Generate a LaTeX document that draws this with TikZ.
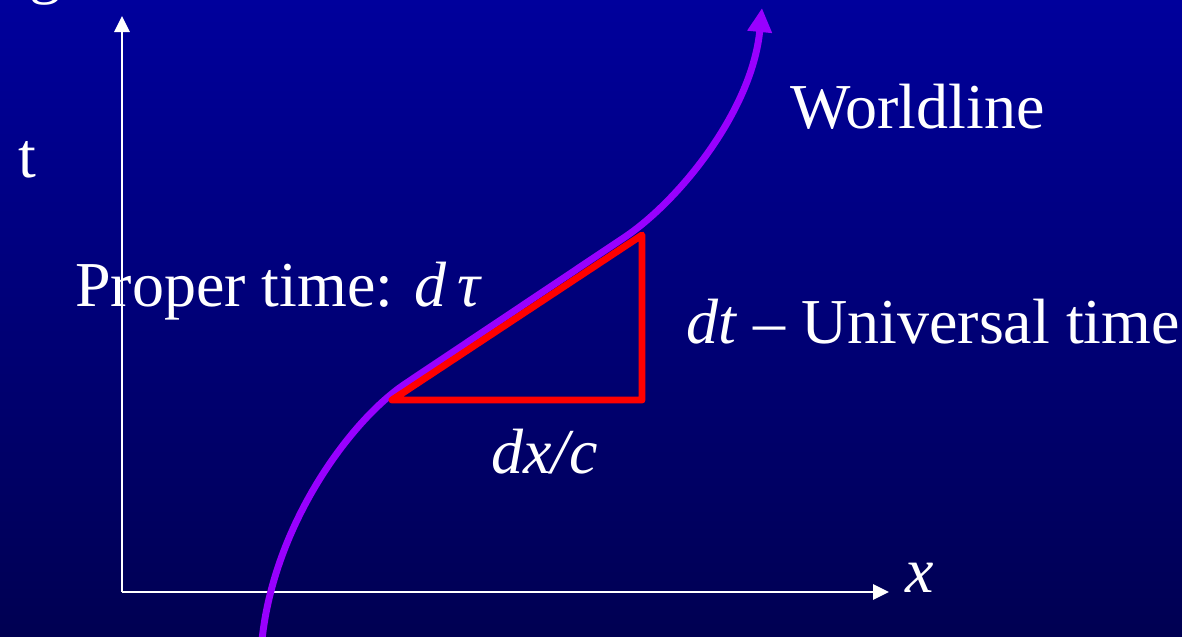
\documentclass[tikz,border=0pt]{standalone}
\usepackage{fontspec}
\setmainfont{Liberation Serif}
\usetikzlibrary{arrows.meta}
\definecolor{bgtop}{RGB}{0,0,156}
\definecolor{bgbot}{RGB}{0,0,82}
\definecolor{wlpurple}{RGB}{153,0,255}
\definecolor{trired}{RGB}{255,0,0}
\tikzset{
  lbl/.style={text=white,font=\fontsize{48}{58}\selectfont,inner sep=0pt,anchor=base west},
  axis/.style={white,line width=1.5pt,-{Triangle[width=11.5pt,length=12pt]}},
  worldline/.style={wlpurple,line width=5.2pt,-{Triangle[width=17.5pt,length=18pt]}},
  tri/.style={trired,line width=5.2pt,line join=round,line cap=round}
}
\begin{document}
\begin{tikzpicture}[x=0.75pt,y=-0.75pt]
\useasboundingbox (0,0) rectangle (1182,636);
\clip (0,0) rectangle (1182,636);
\shade[top color=bgtop,bottom color=bgbot] (0,0) rectangle (1182,636);
% title fragment
\node[lbl] (g) at (29,-9) {g};
% axes
\coordinate (O) at (122,592);
\coordinate (T) at (122,16);
\coordinate (X) at (889,592);
\draw[axis] (O) -- (T);
\draw[axis] (O) -- (X);
% worldline
\coordinate (w0) at (262,640);
\coordinate (w1) at (405,384);
\coordinate (w2) at (625,237);
\coordinate (w3) at (762,8);
\draw[worldline] (w0) .. controls (274,525) and (350,421) .. (w1)
  -- (w2) .. controls (680,200) and (752,110) .. (w3);
% triangle
\coordinate (A) at (392,400);
\coordinate (B) at (642,235);
\coordinate (C) at (642,400);
\draw[tri] (A) -- (B) -- (C) -- cycle;
% labels
\node[lbl] (tlab) at (18,177) {t};
\node[lbl] (xlab) at (905,592) {\textit{x}};
\node[lbl] (wl) at (790,128) {Worldline};
\node[lbl] (pt) at (75,306) {Proper time: \textit{d}\,\textit{τ}};
\node[lbl] (ut) at (686,343) {\textit{dt} – Universal time};
\node[lbl] (dx) at (491,473) {\textit{dx/c}};
\end{tikzpicture}
\end{document}
